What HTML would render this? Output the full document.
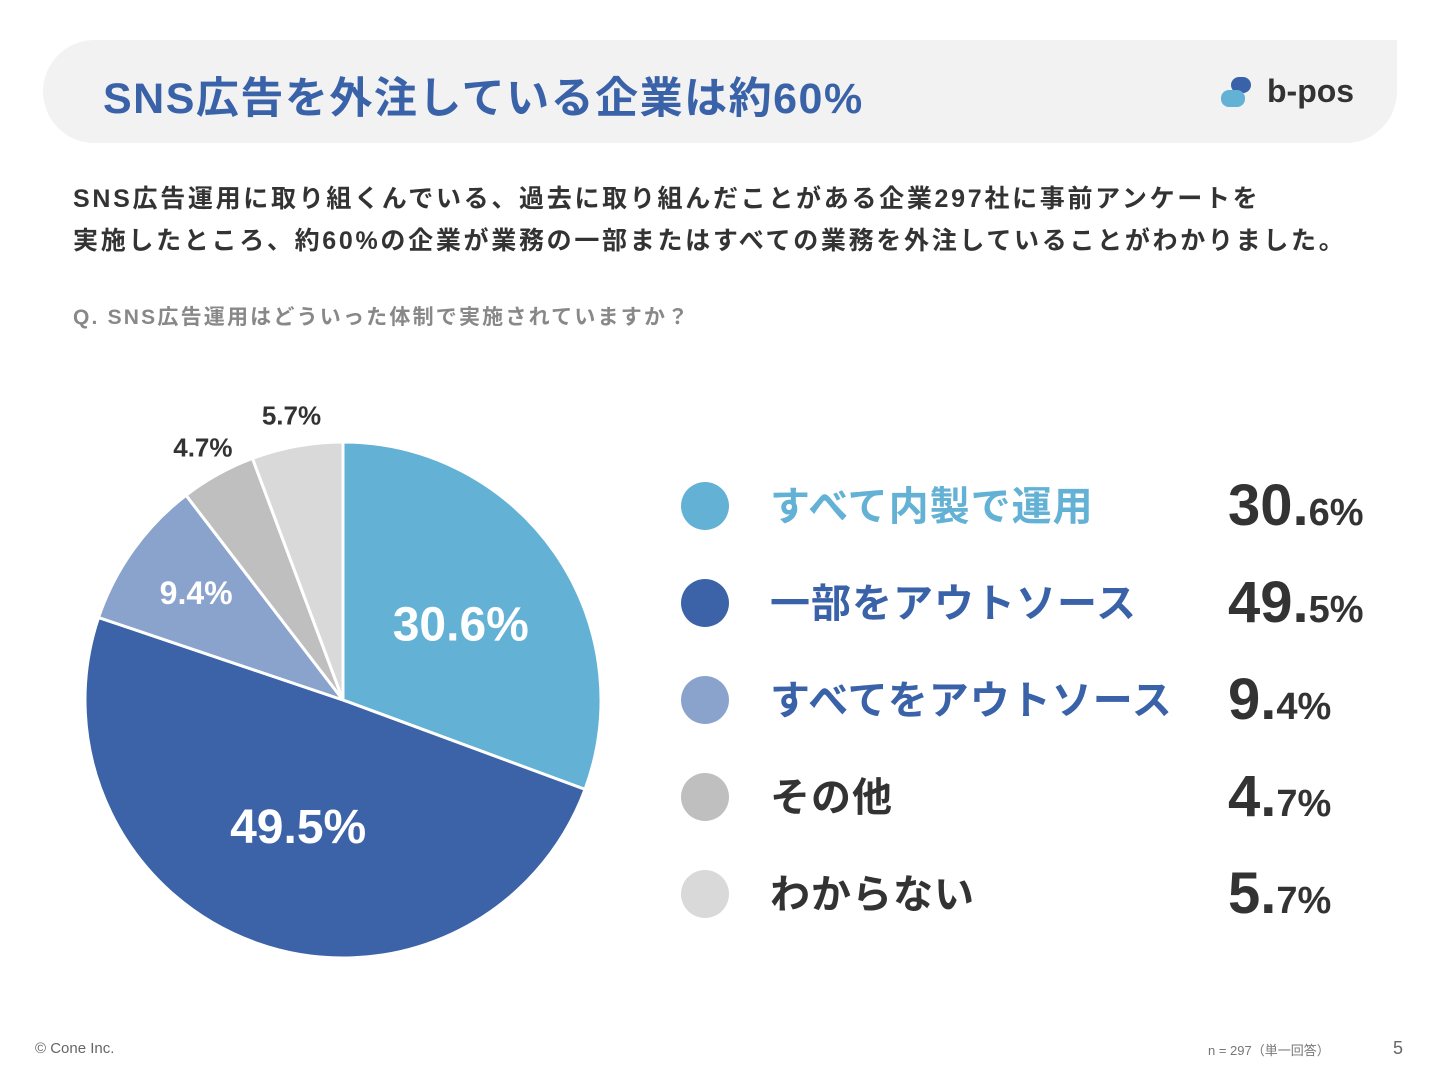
<!DOCTYPE html>
<html><head><meta charset="utf-8"><style>
body{margin:0;width:1440px;height:1080px;background:#fff;position:relative;overflow:hidden;font-family:"Liberation Sans","Noto Sans CJK JP",sans-serif;}
.abs{position:absolute;}
#hdr{left:43px;top:40px;width:1354px;height:103px;background:#f2f2f2;border-radius:52px 0 52px 52px;}
#title{left:103px;top:64px;font-size:43px;font-weight:bold;color:#3a62a8;white-space:nowrap;letter-spacing:1.5px;}
#desc{left:73px;top:178px;font-size:25px;font-weight:bold;color:#333;line-height:42px;white-space:nowrap;letter-spacing:2.7px;}
#q{left:73px;top:301px;font-size:21px;font-weight:bold;color:#888;white-space:nowrap;letter-spacing:2.2px;}
.leg{position:absolute;font-size:40px;font-weight:bold;white-space:nowrap;letter-spacing:1px;}
.val{position:absolute;left:1228px;font-weight:bold;color:#333;white-space:nowrap;font-size:58px;}
.val small{font-size:38px;}
</style></head><body>
<div id="hdr" class="abs"></div>
<div id="title" class="abs">SNS広告を外注している企業は約60%</div>
<div class="abs" style="left:1220px;top:75px;">
<svg width="140" height="36"><rect x="11" y="2" width="20" height="16" rx="8" fill="#3a62a8"/><rect x="1" y="15" width="24" height="17" rx="8" fill="#63b1d5"/><text x="47" y="27" font-size="32" font-weight="600" font-family="Liberation Sans, sans-serif" fill="#333">b-pos</text></svg></div>
<div id="desc" class="abs">SNS広告運用に取り組くんでいる、過去に取り組んだことがある企業297社に事前アンケートを<br>実施したところ、約60%の企業が業務の一部またはすべての業務を外注していることがわかりました。</div>
<div id="q" class="abs">Q. SNS広告運用はどういった体制で実施されていますか？</div>
<svg id="pie" class="abs" style="left:0;top:380px" width="660" height="600"></svg>
<div id="legend"></div>
<div class="abs" style="left:35px;top:1040px;font-size:15px;color:#666">© Cone Inc.</div>
<div class="abs" style="left:1208px;top:1040px;font-size:13px;color:#777">n = 297（単一回答）</div>
<div class="abs" style="left:1393px;top:1038px;font-size:18px;color:#666">5</div>
<script>
const categories=["すべて内製で運用","一部をアウトソース","すべてをアウトソース","その他","わからない"];
const values=[30.6,49.5,9.4,4.7,5.7];
const colors=["#63b1d5","#3c63a8","#8aa3cd","#bfbfbf","#d9d9d9"];
const legendColors=["#63b1d5","#3a62a8","#3a62a8","#333","#333"];
const NS="http://www.w3.org/2000/svg";
const svg=document.getElementById('pie');
const cx=343,cy=320,r=258;
const total=values.reduce((a,b)=>a+b,0);
function pt(a,rr){return [cx+rr*Math.sin(a),cy-rr*Math.cos(a)];}
let a0=0;
values.forEach((v,i)=>{
  const a1=a0+v/total*2*Math.PI;
  const p0=pt(a0,r),p1=pt(a1,r);
  const p=document.createElementNS(NS,'path');
  p.setAttribute('d',`M${cx},${cy}L${p0[0]},${p0[1]}A${r},${r} 0 ${a1-a0>Math.PI?1:0} 1 ${p1[0]},${p1[1]}Z`);
  p.setAttribute('fill',colors[i]);p.setAttribute('stroke','#fff');p.setAttribute('stroke-width','3');
  
  
  svg.appendChild(p);
  const m=(a0+a1)/2;
  const big=v>20, inside=v>8;
  const lp=pt(m,big?r*0.58:(inside?r*0.7:r*1.12));
  const t=document.createElementNS(NS,'text');
  t.setAttribute('x',lp[0]+(big?(i===0?-5:5):0));t.setAttribute('y',lp[1]+(big?(i===0?26:2):9));
  t.setAttribute('text-anchor','middle');t.setAttribute('font-weight','bold');
  t.setAttribute('font-family','Liberation Sans, sans-serif');
  t.setAttribute('font-size',big?48:(inside?32:26));
  t.setAttribute('fill',inside?'#fff':'#333');
  t.textContent=v.toFixed(1)+'%';
  
  
  svg.appendChild(t);
  a0=a1;
});
const lg=document.getElementById('legend');
categories.forEach((c,i)=>{
  const y=506+i*97;
  const d=document.createElement('div');
  d.style.cssText=`position:absolute;left:681px;top:${y-24}px;width:48px;height:48px;border-radius:50%;background:${colors[i]}`;
  
  
  lg.appendChild(d);
  const l=document.createElement('div');
  l.className='leg';l.style.left='770px';l.style.top=(y-32)+'px';l.style.color=legendColors[i];
  l.textContent=c;
  
  
  lg.appendChild(l);
  const s=values[i].toFixed(1).split('.');
  const v=document.createElement('div');
  v.className='val';v.style.top=(y-34)+'px';
  v.innerHTML=s[0]+'.<small>'+s[1]+'%</small>';
  
  
  lg.appendChild(v);
});
</script>
</body></html>
